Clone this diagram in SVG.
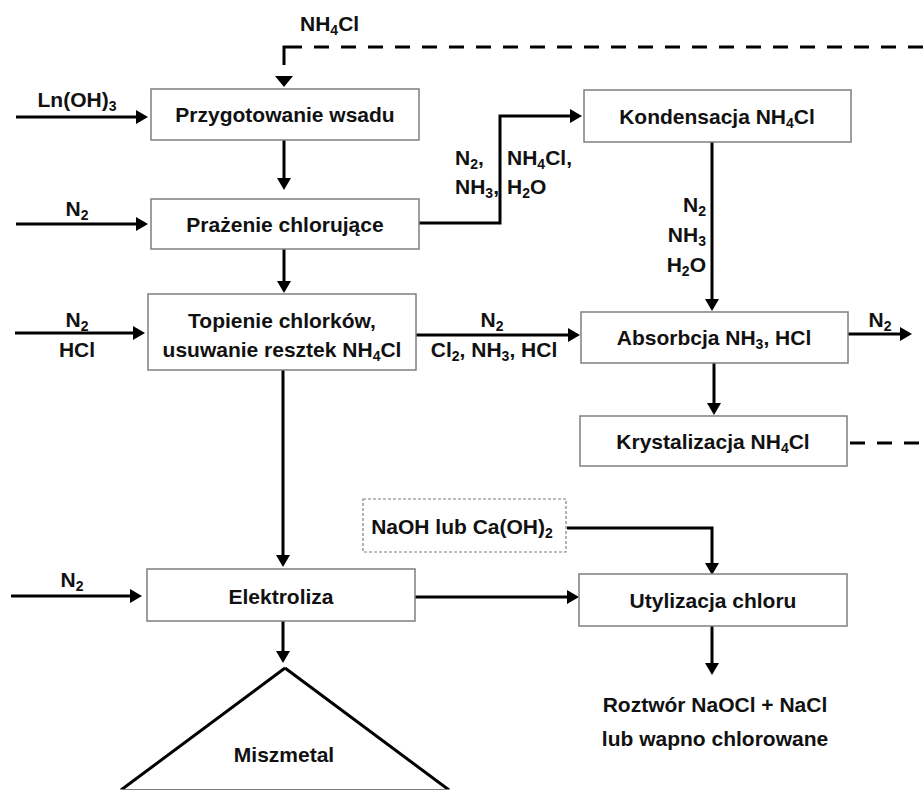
<svg xmlns="http://www.w3.org/2000/svg" width="924" height="790" viewBox="0 0 924 790">
<style>
.box{fill:#fff;stroke:#7f7f7f;stroke-width:1.5}
.dbox{fill:#fff;stroke:#7f7f7f;stroke-width:1.2;stroke-dasharray:3 2}
.t{font-family:"Liberation Sans",Arial,sans-serif;font-weight:bold;font-size:21px;fill:#111}
.m{text-anchor:middle}
.e{text-anchor:end}
.c{fill:none;stroke:#000;stroke-width:3}
.d{fill:none;stroke:#000;stroke-width:3;stroke-dasharray:15 12}
</style>
<defs>
<marker id="ah" viewBox="0 0 12 14" markerWidth="12" markerHeight="14" refX="9" refY="7" orient="auto" markerUnits="userSpaceOnUse">
<path d="M0,0 L12,7 L0,14 z" fill="#000"/>
</marker>
</defs>

<g id="connectors">
<path class="c" d="M16,117 H145" marker-end="url(#ah)"/>
<path class="c" d="M16,224 H145" marker-end="url(#ah)"/>
<path class="c" d="M284,140 V187" marker-end="url(#ah)"/>
<path class="c" d="M284,249 V290" marker-end="url(#ah)"/>
<path class="c" d="M419,223 H500 V116 H579" marker-end="url(#ah)"/>
<path class="c" d="M712,142 V308" marker-end="url(#ah)"/>
<path class="c" d="M15,333 H142" marker-end="url(#ah)"/>
<path class="c" d="M416,335 H577" marker-end="url(#ah)"/>
<path class="c" d="M848,334 H909" marker-end="url(#ah)"/>
<path class="c" d="M714,363 V412" marker-end="url(#ah)"/>
<path class="c" d="M283,370 V564" marker-end="url(#ah)"/>
<path class="c" d="M11,596 H139" marker-end="url(#ah)"/>
<path class="c" d="M415,597 H576" marker-end="url(#ah)"/>
<path class="c" d="M567,528 H712 V572" marker-end="url(#ah)"/>
<path class="c" d="M283,621 V660" marker-end="url(#ah)"/>
<path class="c" d="M712,626 V672" marker-end="url(#ah)"/>
<path class="c" d="M284,65 V47 H302"/>
<path class="d" d="M314,47 H924"/>
<path d="M275,76 L293,76 L284,87 z" fill="#000"/>
<path class="d" d="M850,443 H924"/>
</g>

<g id="labels">
<text class="t" x="300" y="31">NH<tspan font-size="14" dy="4">4</tspan><tspan dy="-4">Cl</tspan></text>
<text class="t m" x="77" y="107">Ln(OH)<tspan font-size="14" dy="4">3</tspan></text>
<text class="t m" x="77" y="216">N<tspan font-size="14" dy="4">2</tspan></text>
<text class="t" x="455" y="165">N<tspan font-size="14" dy="4">2</tspan><tspan dy="-4">,</tspan></text>
<text class="t" x="455" y="194">NH<tspan font-size="14" dy="4">3</tspan><tspan dy="-4">,</tspan></text>
<text class="t" x="507" y="165">NH<tspan font-size="14" dy="4">4</tspan><tspan dy="-4">Cl,</tspan></text>
<text class="t" x="507" y="194">H<tspan font-size="14" dy="4">2</tspan><tspan dy="-4">O</tspan></text>
<text class="t e" x="706" y="212">N<tspan font-size="14" dy="4">2</tspan></text>
<text class="t e" x="706" y="242">NH<tspan font-size="14" dy="4">3</tspan></text>
<text class="t e" x="706" y="272">H<tspan font-size="14" dy="4">2</tspan><tspan dy="-4">O</tspan></text>
<text class="t m" x="77" y="327">N<tspan font-size="14" dy="4">2</tspan></text>
<text class="t m" x="77" y="357">HCl</text>
<text class="t m" x="492" y="327">N<tspan font-size="14" dy="4">2</tspan></text>
<text class="t m" x="494" y="357">Cl<tspan font-size="14" dy="4">2</tspan><tspan dy="-4">, NH</tspan><tspan font-size="14" dy="4">3</tspan><tspan dy="-4">, HCl</tspan></text>
<text class="t m" x="880" y="327">N<tspan font-size="14" dy="4">2</tspan></text>
<text class="t m" x="72" y="587">N<tspan font-size="14" dy="4">2</tspan></text>
<text class="t m" x="715" y="712">Roztwór NaOCl + NaCl</text>
<text class="t m" x="715" y="746">lub wapno chlorowane</text>
</g>

<g id="n-przygotowanie">
<rect class="box" x="151" y="89" width="268" height="51"/>
<text class="t m" x="285" y="122">Przygotowanie wsadu</text>
</g>
<g id="n-prazenie">
<rect class="box" x="151" y="199" width="268" height="50"/>
<text class="t m" x="285" y="232">Prażenie chlorujące</text>
</g>
<g id="n-topienie">
<rect class="box" x="148" y="294" width="268" height="76"/>
<text class="t m" x="282" y="328">Topienie chlorków,</text>
<text class="t m" x="282" y="357">usuwanie resztek NH<tspan font-size="14" dy="4">4</tspan><tspan dy="-4">Cl</tspan></text>
</g>
<g id="n-kondensacja">
<rect class="box" x="584" y="90" width="267" height="52"/>
<text class="t m" x="717" y="124">Kondensacja NH<tspan font-size="14" dy="4">4</tspan><tspan dy="-4">Cl</tspan></text>
</g>
<g id="n-absorbcja">
<rect class="box" x="581" y="312" width="267" height="51"/>
<text class="t m" x="714" y="345">Absorbcja NH<tspan font-size="14" dy="4">3</tspan><tspan dy="-4">, HCl</tspan></text>
</g>
<g id="n-krystalizacja">
<rect class="box" x="580" y="416" width="267" height="50"/>
<text class="t m" x="713" y="449">Krystalizacja NH<tspan font-size="14" dy="4">4</tspan><tspan dy="-4">Cl</tspan></text>
</g>
<g id="n-naoh">
<rect class="dbox" x="363" y="499" width="203" height="53"/>
<text class="t m" x="462" y="534">NaOH lub Ca(OH)<tspan font-size="14" dy="4">2</tspan></text>
</g>
<g id="n-elektroliza">
<rect class="box" x="147" y="569" width="268" height="52"/>
<text class="t m" x="281" y="604">Elektroliza</text>
</g>
<g id="n-utylizacja">
<rect class="box" x="579" y="574" width="268" height="52"/>
<text class="t m" x="713" y="608">Utylizacja chloru</text>
</g>
<g id="n-miszmetal">
<path d="M285,668 L121,790 M285,668 L449,790" fill="none" stroke="#000" stroke-width="3"/>
<path d="M121,789.5 H449" fill="none" stroke="#7f7f7f" stroke-width="1"/>
<text class="t m" x="284" y="762">Miszmetal</text>
</g>
</svg>
